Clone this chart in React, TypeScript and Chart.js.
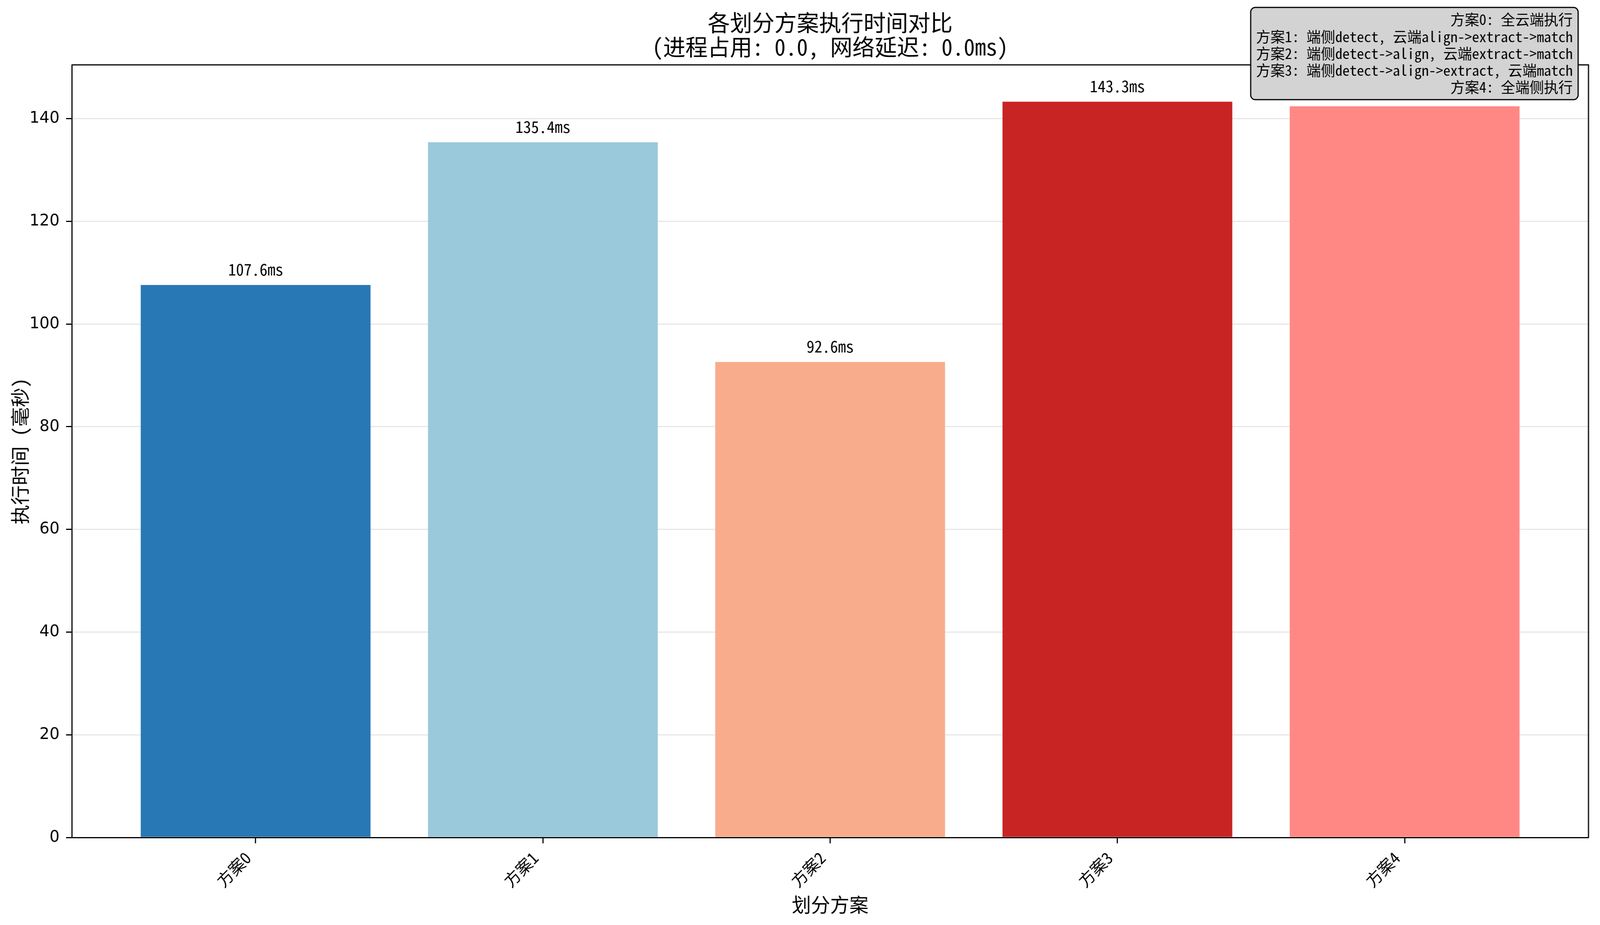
import { useEffect, useRef } from 'react';
import { Chart, registerables } from 'chart.js';
import type { Plugin } from 'chart.js';

Chart.register(...registerables);

// ---- data ----
const CATEGORIES = ['方案0', '方案1', '方案2', '方案3', '方案4'];
const TIMES_MS = [107.6, 135.4, 92.6, 143.3, 142.4];
const BAR_COLORS = ['#2878b5', '#9ac9db', '#f8ac8c', '#c82423', '#ff8884'];
const Y_TICKS = [0, 20, 40, 60, 80, 100, 120, 140];

const TITLE_LINES = ['各划分方案执行时间对比', '(进程占用: 0.0, 网络延迟: 0.0ms)'];
const X_LABEL = '划分方案';
const Y_LABEL = '执行时间 (毫秒)';
const NOTE_LINES = [
  '方案0: 全云端执行',
  '方案1: 端侧detect, 云端align->extract->match',
  '方案2: 端侧detect->align, 云端extract->match',
  '方案3: 端侧detect->align->extract, 云端match',
  '方案4: 全端侧执行',
];

// ---- layout (canvas pixels) ----
const W = 4168;
const H = 2367;
const PLOT = { left: 187, right: 4138, top: 166, bottom: 2143 };
const CJK = '"Noto Sans Mono CJK SC", "Noto Sans CJK SC", sans-serif';

// matplotlib-style limits: bars span i±0.4, 5% margin on x, 5% headroom on y
const X_LO = -0.4;
const X_HI = CATEGORIES.length - 1 + 0.4;
const X_PAD = (X_HI - X_LO) * 0.05;
const Y_MAX = Math.max(...TIMES_MS) * 1.05;

const annotate: Plugin<'bar'> = {
  id: 'annotate',
  afterDraw(chart) {
    const { ctx, chartArea: a } = chart;
    const xs = chart.scales.x;
    const ys = chart.scales.y;
    const cx = (a.left + a.right) / 2;

    ctx.save();
    // top + right spines
    ctx.strokeStyle = '#000';
    ctx.lineWidth = 3;
    ctx.beginPath();
    ctx.moveTo(a.left, a.top);
    ctx.lineTo(a.right, a.top);
    ctx.lineTo(a.right, a.bottom);
    ctx.stroke();

    // value labels above bars
    ctx.fillStyle = '#000';
    ctx.textAlign = 'center';
    ctx.textBaseline = 'alphabetic';
    ctx.font = `41px ${CJK}`;
    TIMES_MS.forEach((v, i) => {
      ctx.fillText(`${v.toFixed(1)}ms`, xs.getPixelForValue(i), ys.getPixelForValue(v) - 24);
    });

    // title
    ctx.textBaseline = 'middle';
    ctx.font = `58px ${CJK}`;
    ctx.fillText(TITLE_LINES[0], cx, 58);
    ctx.fillText(TITLE_LINES[1], cx, 120);

    // axis titles
    ctx.font = `50px ${CJK}`;
    ctx.fillText(X_LABEL, cx, 2315);
    ctx.save();
    ctx.translate(52, (a.top + a.bottom) / 2);
    ctx.rotate(-Math.PI / 2);
    ctx.fillText(Y_LABEL, 0, 0);
    ctx.restore();

    // note box, top right (drawn last so it covers the spine and the 方案4 label)
    ctx.font = `37.5px ${CJK}`;
    const textRight = 4097;
    const lineGap = 43.3;
    const firstLine = 50;
    const maxW = Math.max(...NOTE_LINES.map((t) => ctx.measureText(t).width));
    const boxRight = 4111;
    const boxLeft = textRight - maxW - 14;
    const boxTop = 19;
    const boxBottom = 255;
    ctx.beginPath();
    ctx.roundRect(boxLeft, boxTop, boxRight - boxLeft, boxBottom - boxTop, 12);
    ctx.fillStyle = '#d3d3d3';
    ctx.fill();
    ctx.lineWidth = 3;
    ctx.strokeStyle = '#000';
    ctx.stroke();
    ctx.fillStyle = '#000';
    ctx.textAlign = 'right';
    NOTE_LINES.forEach((t, i) => ctx.fillText(t, textRight, firstLine + i * lineGap));
    ctx.restore();
  },
};

export default function App() {
  const canvasRef = useRef<HTMLCanvasElement | null>(null);

  useEffect(() => {
    document.body.style.margin = '0';
    const canvas = canvasRef.current;
    if (!canvas) return;

    const chart = new Chart(canvas, {
      type: 'bar',
      data: {
        datasets: [
          {
            data: TIMES_MS.map((v, i) => ({ x: i, y: v })),
            backgroundColor: BAR_COLORS,
            borderWidth: 0,
            categoryPercentage: 1,
            barPercentage: 0.8,
          },
        ],
      },
      options: {
        responsive: false,
        devicePixelRatio: 1,
        animation: false,
        events: [],
        layout: { padding: { top: PLOT.top, right: W - PLOT.right, left: 0, bottom: 0 } },
        plugins: {
          legend: { display: false },
          tooltip: { enabled: false },
          title: { display: false },
        },
        scales: {
          x: {
            type: 'linear',
            min: X_LO - X_PAD,
            max: X_HI + X_PAD,
            bounds: 'data',
            offset: false,
            afterBuildTicks: (scale) => {
              scale.ticks = CATEGORIES.map((_, i) => ({ value: i }));
            },
            afterFit: (scale) => {
              scale.height = H - PLOT.bottom;
            },
            grid: {
              display: true,
              offset: false,
              drawOnChartArea: false,
              drawTicks: true,
              tickLength: 15,
              tickWidth: 3,
              tickColor: '#000',
            },
            border: { display: true, color: '#000', width: 3 },
            ticks: {
              autoSkip: false,
              minRotation: 45,
              maxRotation: 45,
              padding: 12,
              labelOffset: -20,
              color: '#000',
              font: { family: CJK, size: 42 },
              callback: (v) => CATEGORIES[Number(v)] ?? '',
            },
          },
          y: {
            type: 'linear',
            min: 0,
            max: Y_MAX,
            bounds: 'data',
            afterBuildTicks: (scale) => {
              scale.ticks = Y_TICKS.map((v) => ({ value: v }));
            },
            afterFit: (scale) => {
              scale.width = PLOT.left;
            },
            grid: {
              color: 'rgba(176,176,176,0.3)',
              lineWidth: 3,
              drawTicks: true,
              tickLength: 15,
              tickWidth: 3,
              tickColor: '#000',
            },
            border: { display: true, color: '#000', width: 3 },
            ticks: {
              padding: 17,
              color: '#000',
              font: { family: '"DejaVu Sans", sans-serif', size: 41 },
            },
          },
        },
      },
      plugins: [annotate],
    });

    return () => chart.destroy();
  }, []);

  // canvas keeps its 4168x2367 drawing buffer but is shown to fill the viewport
  return (
    <div style={{ position: 'fixed', left: 0, top: 0, width: '100vw', height: '100vh', overflow: 'hidden' }}>
      <canvas ref={canvasRef} width={W} height={H} style={{ display: 'block', width: '100%', height: '100%' }} />
    </div>
  );
}
